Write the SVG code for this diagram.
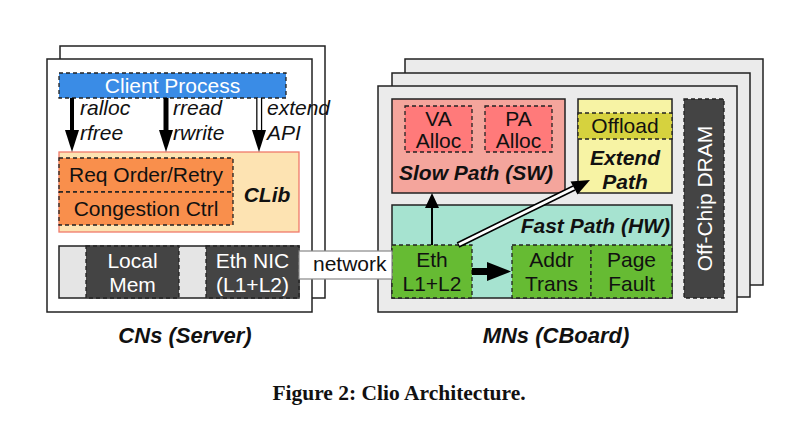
<svg xmlns="http://www.w3.org/2000/svg" width="797" height="431" viewBox="0 0 797 431">
<style>
.box{stroke:#222;stroke-width:1.5}
.dash{stroke:#222;stroke-width:1.3;stroke-dasharray:4,3}
.t{font-family:"Liberation Sans",Arial,sans-serif;font-size:21px;fill:#111}
.w{fill:#fff}
.c{text-anchor:middle}
.i{font-style:italic}
.bi{font-style:italic;font-weight:bold}
.lbl{font-size:22px}
.cap{font-family:"Liberation Serif","Times New Roman",serif;font-size:21.5px;font-weight:bold;fill:#111;text-anchor:middle}
</style>
<rect width="797" height="431" fill="#fff"/>
<g id="cn">
<rect class="box" x="60" y="46" width="265" height="252" fill="#fff"/>
<rect class="box" x="47" y="59" width="265" height="253" fill="#fff"/>
</g>
<g id="client-process">
<rect class="dash" x="59" y="73" width="227" height="25" fill="#3a8ce6"/>
<text class="t w c" x="172.5" y="93">Client Process</text>
</g>
<g id="clib">
<rect x="59" y="152" width="240" height="80" fill="#fde3b2" stroke="#f07a6a" stroke-width="1.3"/>
<text class="t bi c" x="267" y="202">CLib</text>
</g>
<g id="req-order">
<rect class="dash" x="59" y="158" width="174" height="34" fill="#f98f4c"/>
<text class="t c" x="146" y="182">Req Order/Retry</text>
</g>
<g id="congestion">
<rect class="dash" x="59" y="192" width="174" height="33" fill="#f98f4c"/>
<text class="t c" x="146" y="216">Congestion Ctrl</text>
</g>
<g id="hw-strip">
<rect class="box" x="59" y="246" width="240" height="52" fill="#e5e5e5"/>
</g>
<g id="local-mem">
<rect class="dash" x="86" y="246" width="93" height="52" fill="#444"/>
<text class="t w c" x="132.5" y="268">Local</text>
<text class="t w c" x="132.5" y="292">Mem</text>
</g>
<g id="eth-nic">
<rect class="dash" x="206" y="246" width="93" height="52" fill="#444"/>
<text class="t w c" x="252.5" y="268">Eth NIC</text>
<text class="t w c" x="252.5" y="292">(L1+L2)</text>
</g>
<g id="mn">
<rect class="box" x="405" y="59" width="358" height="226" fill="#ebebeb"/>
<rect class="box" x="392" y="73" width="358" height="224" fill="#ebebeb"/>
<rect class="box" x="378" y="86" width="359" height="226" fill="#ebebeb"/>
</g>
<g id="slow-path">
<rect class="box" x="392" y="99" width="173" height="94" fill="#f4a59c"/>
<text class="t bi" x="399" y="180">Slow Path (SW)</text>
</g>
<g id="va-alloc">
<rect class="dash" x="405" y="106" width="67" height="46" fill="#ff7a7a"/>
<text class="t c" x="438.5" y="126">VA</text>
<text class="t c" x="438.5" y="148">Alloc</text>
</g>
<g id="pa-alloc">
<rect class="dash" x="485" y="106" width="67" height="46" fill="#ff7a7a"/>
<text class="t c" x="518.5" y="126">PA</text>
<text class="t c" x="518.5" y="148">Alloc</text>
</g>
<g id="extend-path">
<rect class="box" x="578" y="99" width="94" height="94" fill="#f7f3a4"/>
<text class="t bi c" x="625" y="165">Extend</text>
<text class="t bi c" x="625" y="189">Path</text>
</g>
<g id="offload">
<rect class="dash" x="578" y="113" width="94" height="26" fill="#d6d23e"/>
<text class="t c" x="625" y="133">Offload</text>
</g>
<g id="dram">
<rect class="dash" x="684" y="99" width="40" height="199" fill="#444"/>
<text class="t w c" transform="translate(712,198.5) rotate(-90)">Off-Chip DRAM</text>
</g>
<g id="fast-path">
<rect class="box" x="392" y="205" width="280" height="93" fill="#a6e3d0"/>
<text class="t bi" x="670" y="233" text-anchor="end">Fast Path (HW)</text>
</g>
<g id="eth">
<rect class="dash" x="392" y="245" width="80" height="53" fill="#66bb33"/>
<text class="t c" x="432" y="267">Eth</text>
<text class="t c" x="432" y="291">L1+L2</text>
</g>
<g id="addr-trans">
<rect class="dash" x="512" y="245" width="79" height="53" fill="#66bb33"/>
<text class="t c" x="551.5" y="267">Addr</text>
<text class="t c" x="551.5" y="291">Trans</text>
</g>
<g id="page-fault">
<rect class="dash" x="591" y="245" width="81" height="53" fill="#66bb33"/>
<text class="t c" x="631.5" y="267">Page</text>
<text class="t c" x="631.5" y="291">Fault</text>
</g>
<g id="connectors">
<line x1="72" y1="98" x2="72" y2="132" stroke="#000" stroke-width="4"/>
<polygon points="65,130 79,130 72,152" fill="#000"/>
<text class="t i" x="80" y="115">ralloc</text>
<text class="t i" x="80" y="140">rfree</text>
<line x1="166" y1="98" x2="166" y2="132" stroke="#000" stroke-width="5"/>
<polygon points="159,130 173,130 166,152" fill="#000"/>
<text class="t i" x="173" y="115">rread</text>
<text class="t i" x="173" y="140">rwrite</text>
<line x1="259.2" y1="98" x2="259.2" y2="132" stroke="#000" stroke-width="6"/>
<line x1="259.2" y1="98" x2="259.2" y2="132" stroke="#fff" stroke-width="3.5"/>
<polygon points="252,130 266,130 259,152" fill="#000"/>
<text class="t i" x="267" y="115">extend</text>
<text class="t i" x="267" y="140">API</text>
<rect x="299" y="251" width="93" height="28" fill="#fff" stroke="#888" stroke-width="1.2"/>
<text class="t" x="313" y="271">network</text>
<line x1="432" y1="245" x2="432" y2="206" stroke="#000" stroke-width="2"/>
<polygon points="425,208 439,208 432,193" fill="#000"/>
<line x1="458" y1="245" x2="574" y2="188" stroke="#000" stroke-width="6"/>
<line x1="459" y1="244.5" x2="575" y2="187.5" stroke="#fff" stroke-width="3"/>
<polygon points="590,180 577.5,194.5 570.5,181.5" fill="#000"/>
<line x1="472" y1="271.5" x2="490" y2="271.5" stroke="#000" stroke-width="7"/>
<polygon points="487,262 487,281 511,271.5" fill="#000"/>
</g>
<text class="t bi c lbl" x="185" y="343">CNs (Server)</text>
<text class="t bi c lbl" x="556" y="343">MNs (CBoard)</text>
<text class="cap" x="399" y="400">Figure 2: Clio Architecture.</text>
</svg>
